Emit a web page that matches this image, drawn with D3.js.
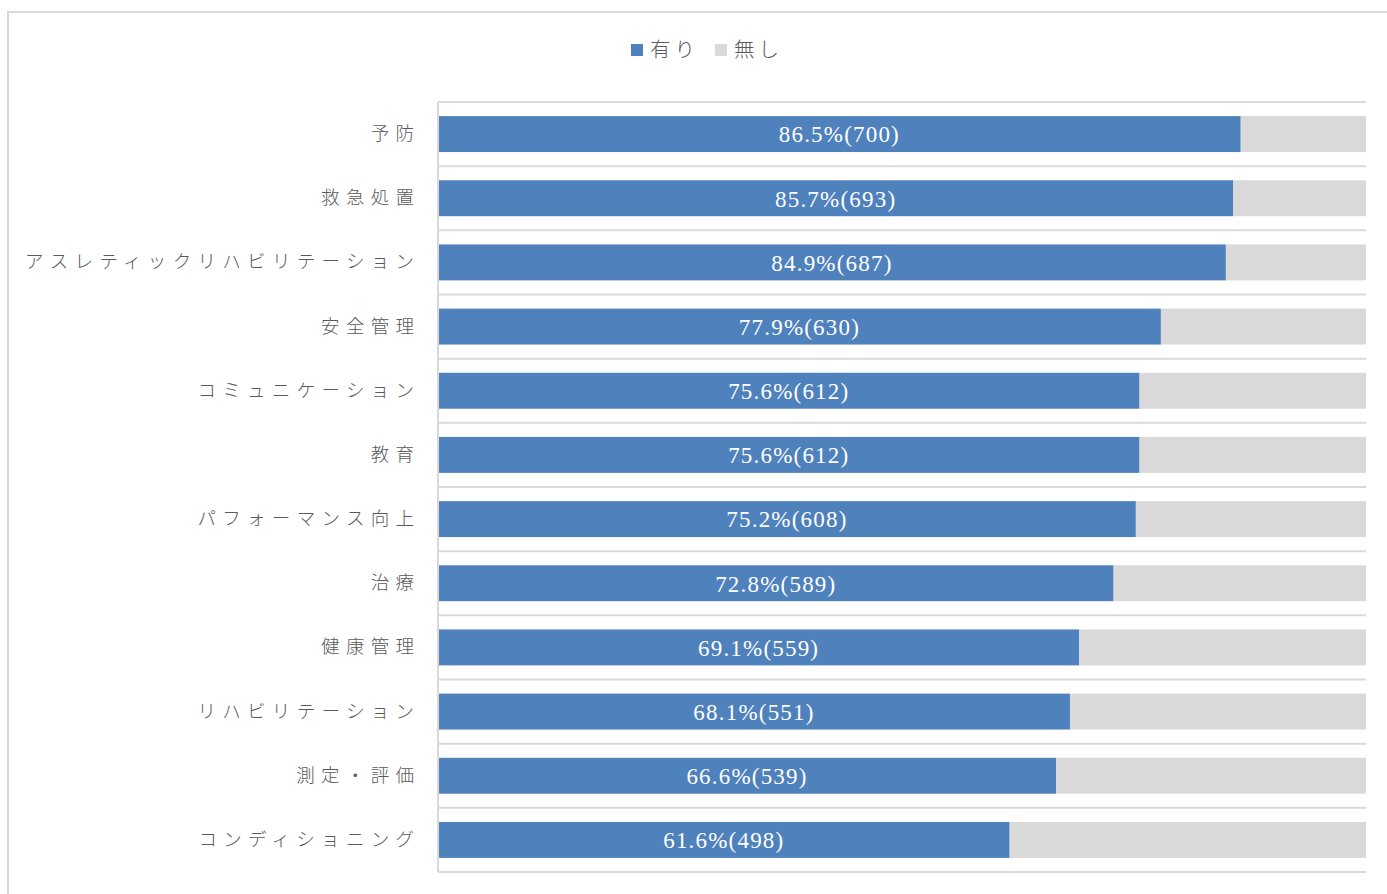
<!DOCTYPE html>
<html>
<head>
<meta charset="utf-8">
<script src="https://cdn.jsdelivr.net/npm/d3@7"></script>
<style>
  html, body { margin: 0; padding: 0; background: #fff; }
  svg { display: block; }
</style>
</head>
<body>
<svg id="chart" width="1387" height="894"></svg>
<script>
// Categories, top to bottom
const categories = [
  "予防", "救急処置", "アスレティックリハビリテーション", "安全管理",
  "コミュニケーション", "教育", "パフォーマンス向上", "治療",
  "健康管理", "リハビリテーション", "測定・評価", "コンディショニング"
];
// Share answering "有り" (%) and respondent counts
const yesPct = [86.5, 85.7, 84.9, 77.9, 75.6, 75.6, 75.2, 72.8, 69.1, 68.1, 66.6, 61.6];
const yesCount = [700, 693, 687, 630, 612, 612, 608, 589, 559, 551, 539, 498];
// Remaining share "無し" (%)
const noPct = [13.5, 14.3, 15.1, 22.1, 24.4, 24.4, 24.8, 27.2, 30.9, 31.9, 33.4, 38.4];
const seriesNames = ["有り", "無し"];
const seriesColors = ["#4f81bd", "#d9d9d9"];

const svg = d3.select("#chart");

// Outer chart border
svg.append("rect")
  .attr("x", 8).attr("y", 12)
  .attr("width", 1400).attr("height", 900)
  .attr("fill", "none").attr("stroke", "#d9d9d9").attr("stroke-width", 2);

const plot = { left: 438, right: 1366, top: 102, bottom: 872 };

const x = d3.scaleLinear().domain([0, 100]).range([plot.left, plot.right]);
const y = d3.scaleBand().domain(categories).range([plot.top, plot.bottom])
  .paddingInner(0.44).paddingOuter(0.22);

const rows = categories.map((c, i) => ({ cat: c, yes: yesPct[i], no: noPct[i], n: yesCount[i] }));
const stacked = d3.stack().keys(["yes", "no"])(rows);

// Horizontal separators at category boundaries
const bounds = d3.range(categories.length + 1).map(i => plot.top + i * (plot.bottom - plot.top) / categories.length);
svg.append("g").selectAll("line").data(bounds).join("line")
  .attr("x1", plot.left).attr("x2", plot.right)
  .attr("y1", d => d).attr("y2", d => d)
  .attr("stroke", "#d9d9d9").attr("stroke-width", 2);

// Bars
svg.append("g").selectAll("g").data(stacked).join("g")
  .attr("fill", (d, i) => seriesColors[i])
  .selectAll("rect").data(d => d).join("rect")
  .attr("x", d => x(d[0]))
  .attr("width", d => x(d[1]) - x(d[0]))
  .attr("y", d => y(d.data.cat))
  .attr("height", y.bandwidth());

// Vertical category axis line
svg.append("line")
  .attr("x1", plot.left).attr("x2", plot.left)
  .attr("y1", plot.top).attr("y2", plot.bottom)
  .attr("stroke", "#d9d9d9").attr("stroke-width", 2);

// Category labels
const yAxis = d3.axisLeft(y).tickSize(0).tickPadding(24);
const yg = svg.append("g").attr("transform", `translate(${plot.left},0)`).call(yAxis);
yg.select(".domain").remove();
yg.selectAll("text")
  .attr("fill", "#595959")
  .style("font-family", "'Noto Sans CJK JP', sans-serif")
  .style("font-weight", 300)
  .style("font-size", "18.5px")
  .style("letter-spacing", "6.3px")
  .attr("dx", 6.3);

// Value labels on the "有り" segment
svg.append("g").selectAll("text").data(stacked[0]).join("text")
  .attr("x", d => (x(d[0]) + x(d[1])) / 2)
  .attr("y", d => y(d.data.cat) + y.bandwidth() / 2)
  .attr("dy", "0.36em")
  .attr("text-anchor", "middle")
  .attr("fill", "#ffffff")
  .style("font-family", "'Liberation Serif', serif")
  .style("font-size", "23px")
  .style("letter-spacing", "1.2px")
  .text(d => `${d.data.yes.toFixed(1)}%(${d.data.n})`);

// Legend
const legend = svg.append("g").attr("transform", "translate(631,44)");
const legendX = [0, 84];
seriesNames.forEach((name, i) => {
  const g = legend.append("g").attr("transform", `translate(${legendX[i]},0)`);
  g.append("rect").attr("width", 12).attr("height", 12).attr("fill", seriesColors[i]);
  g.append("text").attr("x", 19).attr("y", 6).attr("dy", "0.36em")
    .attr("fill", "#595959")
    .style("font-family", "'Noto Sans CJK JP', sans-serif")
    .style("font-weight", 300)
    .style("font-size", "20.5px")
    .style("letter-spacing", "4px")
    .text(name);
});
</script>
</body>
</html>
